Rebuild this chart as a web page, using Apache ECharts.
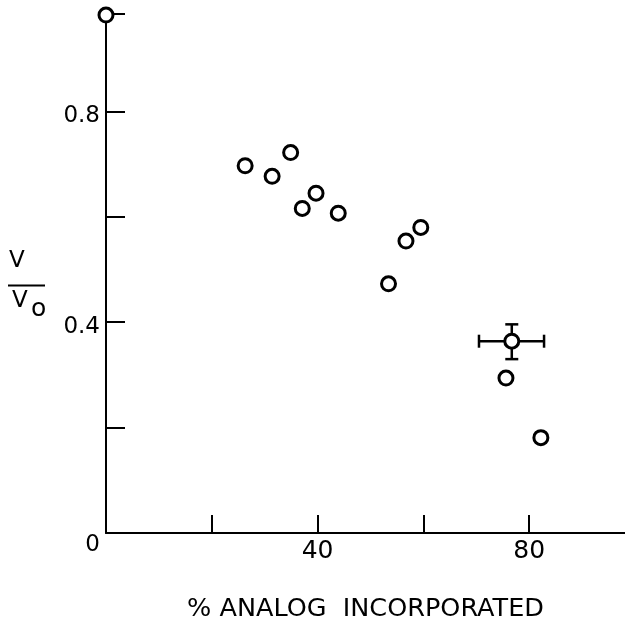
<!DOCTYPE html>
<html>
<head>
<meta charset="utf-8">
<script src="https://cdn.jsdelivr.net/npm/echarts@6/dist/echarts.min.js"></script>
<style>
html,body{margin:0;padding:0;background:#fff;}
#c{width:625px;height:627px;}
</style>
</head>
<body>
<div id="c"></div>
<script>
// Data
const pointsX = [0, 26.3, 31.4, 34.9, 37.1, 39.7, 43.9, 53.4, 56.7, 59.5, 75.6, 82.2];
const pointsY = [0.983, 0.697, 0.677, 0.722, 0.616, 0.645, 0.607, 0.473, 0.554, 0.580, 0.294, 0.181];
// point with error bars: [x, y, xLow, xHigh, yLow, yHigh]
const errPoint = [76.7, 0.364, 70.5, 82.8, 0.330, 0.396];
const xTicks = [20, 40, 60, 80];
const xLabels = [40, 80];
const yTicks = [0.2, 0.4, 0.6, 0.8, 0.985];
const yLabels = [0, 0.4, 0.8];

const font = 'DejaVu Sans';
const chart = echarts.init(document.getElementById('c'), null, {renderer: 'canvas'});

const scatterData = pointsX.map((x, i) => [x, pointsY[i]]);

chart.setOption({
  backgroundColor: '#fff',
  animation: false,
  grid: {left: 106, right: 0, top: 14, bottom: 91, containLabel: false},
  xAxis: {
    type: 'value', min: 0, max: 98.1,
    splitLine: {show: false},
    axisLine: {show: true, onZero: false, lineStyle: {color: '#000', width: 2}},
    axisTick: {show: true, inside: true, length: 18, customValues: xTicks, lineStyle: {color: '#000', width: 2}},
    axisLabel: {show: true, customValues: xLabels, color: '#000', fontFamily: font, fontSize: 25, margin: 6},
    name: '% ANALOG  INCORPORATED',
    nameLocation: 'middle',
    nameGap: 63,
    nameTextStyle: {color: '#000', fontFamily: font, fontSize: 25.5}
  },
  yAxis: {
    type: 'value', min: 0, max: 0.985,
    splitLine: {show: false},
    axisLine: {show: true, onZero: false, lineStyle: {color: '#000', width: 2}},
    axisTick: {show: true, inside: true, length: 19, customValues: yTicks, lineStyle: {color: '#000', width: 2}},
    axisLabel: {
      show: true, customValues: yLabels, color: '#000', fontFamily: font, fontSize: 23, margin: 6,
      formatter: function (v) { return v === 0 ? '{z|0}' : '{n|' + v.toFixed(1) + '}'; },
      rich: {
        z: {fontFamily: font, fontSize: 23, color: '#000', padding: [24, 0, 0, 0]},
        n: {fontFamily: font, fontSize: 23, color: '#000', padding: [10, 0, 0, 0]}
      }
    }
  },
  graphic: [
    {type: 'text', left: 9, top: 250, style: {text: 'V', font: '23px "DejaVu Sans"', fill: '#000'}},
    {type: 'rect', shape: {x: 8, y: 284.5, width: 37, height: 2}, style: {fill: '#000'}},
    {type: 'text', left: 12, top: 290, style: {text: 'V', font: '23px "DejaVu Sans"', fill: '#000'}},
    {type: 'text', left: 31, top: 297, style: {text: 'o', font: '25px "DejaVu Sans"', fill: '#000'}}
  ],
  series: [
    {
      type: 'scatter',
      data: scatterData,
      symbol: 'circle',
      symbolSize: 14,
      clip: false,
      itemStyle: {color: '#fff', borderColor: '#000', borderWidth: 3, opacity: 1},
      z: 3
    },
    {
      type: 'custom',
      data: [errPoint],
      clip: false,
      z: 2,
      renderItem: function (params, api) {
        const c = api.coord([api.value(0), api.value(1)]);
        const xl = api.coord([api.value(2), api.value(1)]);
        const xh = api.coord([api.value(3), api.value(1)]);
        const yl = api.coord([api.value(0), api.value(4)]);
        const yh = api.coord([api.value(0), api.value(5)]);
        const cap = 6.5;
        const st = {stroke: '#000', lineWidth: 2.5};
        return {
          type: 'group',
          children: [
            {type: 'line', shape: {x1: xl[0], y1: c[1], x2: xh[0], y2: c[1]}, style: st},
            {type: 'line', shape: {x1: xl[0], y1: c[1] - cap, x2: xl[0], y2: c[1] + cap}, style: st},
            {type: 'line', shape: {x1: xh[0], y1: c[1] - cap, x2: xh[0], y2: c[1] + cap}, style: st},
            {type: 'line', shape: {x1: c[0], y1: yl[1], x2: c[0], y2: yh[1]}, style: st},
            {type: 'line', shape: {x1: c[0] - cap, y1: yl[1], x2: c[0] + cap, y2: yl[1]}, style: st},
            {type: 'line', shape: {x1: c[0] - cap, y1: yh[1], x2: c[0] + cap, y2: yh[1]}, style: st},
            {type: 'circle', shape: {cx: c[0], cy: c[1], r: 7}, style: {fill: '#fff', stroke: '#000', lineWidth: 3}}
          ]
        };
      }
    }
  ]
});
</script>
</body>
</html>
